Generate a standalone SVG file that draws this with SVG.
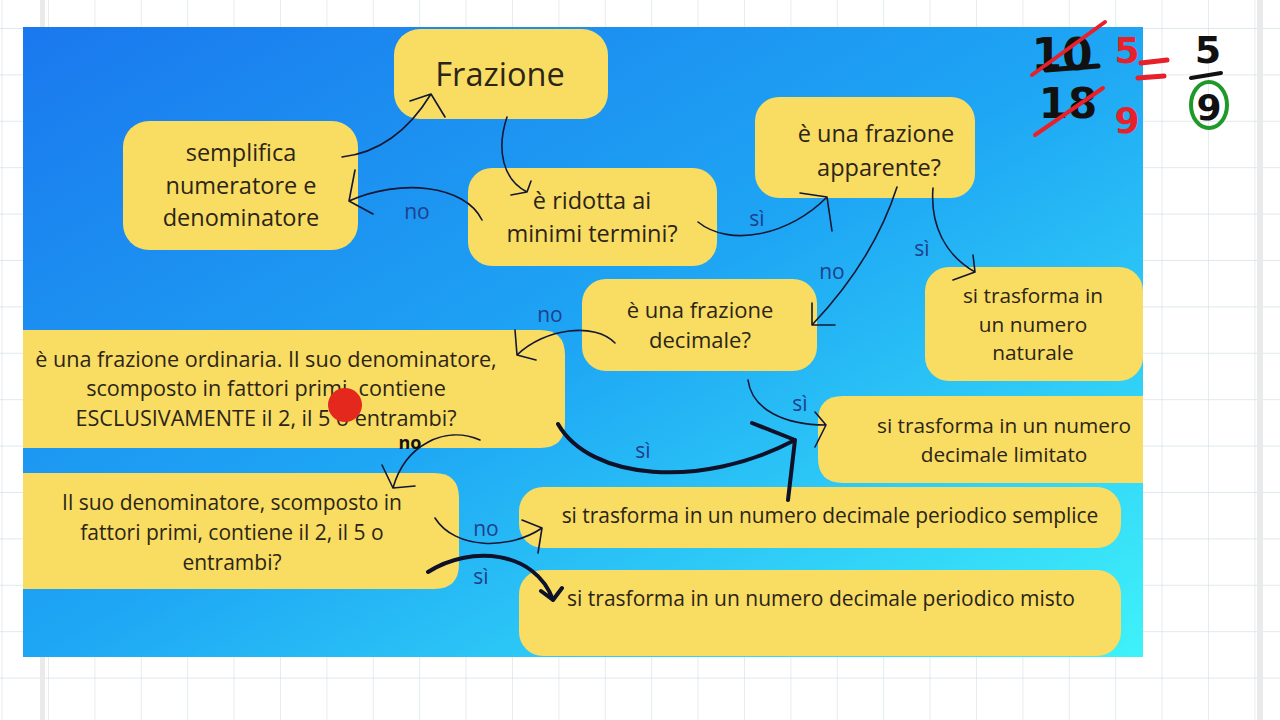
<svg xmlns="http://www.w3.org/2000/svg" width="1280" height="720" viewBox="0 0 1280 720">
<defs>
<pattern id="grid" patternUnits="userSpaceOnUse" x="48" y="28" width="46.4" height="46.4">
<path d="M0,0 V46.4 M0,0 H46.4" fill="none" stroke="#d6e2e8" stroke-width="1.3"/>
</pattern>
<linearGradient id="bg" x1="0" y1="0" x2="1" y2="1">
<stop offset="0" stop-color="#1a78ee"/>
<stop offset="0.5" stop-color="#1ea6f4"/>
<stop offset="1" stop-color="#3ff2f9"/>
</linearGradient>
<style>
.box{fill:#f9dc62}
.t{font-family:"Open Sans","Liberation Sans",sans-serif;fill:#2b2518;text-anchor:middle}
.lab{font-family:"Open Sans","Liberation Sans",sans-serif;fill:#1f3f8c;font-size:21px;text-anchor:middle}
.c{fill:none;stroke:#141733;stroke-width:1.6;stroke-linecap:round;stroke-linejoin:round}
.ck{fill:none;stroke:#0f1128;stroke-width:4;stroke-linecap:round;stroke-linejoin:round}
.hw{font-family:"DejaVu Sans","Liberation Sans",sans-serif;font-weight:bold;text-anchor:middle}
</style>
</defs>
<rect width="1280" height="720" fill="#ffffff"/>
<rect width="1280" height="720" fill="url(#grid)"/>
<rect x="40" y="0" width="5" height="720" fill="#eaeaea"/>
<rect x="1257" y="0" width="6" height="720" fill="#eaeaea"/>
<rect x="23" y="27" width="1120" height="630" fill="url(#bg)"/>

<g id="n-frazione"><rect class="box" x="394" y="29" width="214" height="90" rx="26"/><text class="t" x="500" y="86" font-size="32.5">Frazione</text></g>
<g id="n-semplifica"><rect class="box" x="123" y="121" width="235" height="129" rx="26"/><text class="t" font-size="23.5"><tspan x="241" y="161">semplifica</tspan><tspan x="241" y="194">numeratore e</tspan><tspan x="241" y="226">denominatore</tspan></text></g>
<g id="n-ridotta"><rect class="box" x="468" y="168" width="249" height="98" rx="24"/><text class="t" font-size="23.5"><tspan x="592" y="209">è ridotta ai</tspan><tspan x="592" y="242">minimi termini?</tspan></text></g>
<g id="n-apparente"><rect class="box" x="755" y="97" width="220" height="101" rx="24"/><text class="t" font-size="23.5"><tspan x="876" y="142">è una frazione</tspan><tspan x="879" y="176">apparente?</tspan></text></g>
<g id="n-naturale"><rect class="box" x="925" y="267" width="218" height="114" rx="24"/><text class="t" font-size="20.8"><tspan x="1033" y="303">si trasforma in</tspan><tspan x="1033" y="332">un numero</tspan><tspan x="1033" y="360">naturale</tspan></text></g>
<g id="n-decimale"><rect class="box" x="582" y="279" width="235" height="92" rx="24"/><text class="t" font-size="22"><tspan x="700" y="318">è una frazione</tspan><tspan x="700" y="348">decimale?</tspan></text></g>
<g id="n-ordinaria"><path class="box" d="M23,330 H540 Q565,330 565,355 V423 Q565,448 540,448 H23 Z"/><text class="t" font-size="21.6"><tspan x="266" y="367">è una frazione ordinaria. Il suo denominatore,</tspan><tspan x="266" y="396">scomposto in fattori primi, contiene</tspan><tspan x="266" y="426">ESCLUSIVAMENTE il 2, il 5 o entrambi?</tspan></text></g>
<g id="n-limitato"><path class="box" d="M843,396 H1143 V483 H843 Q818,483 818,458 V421 Q818,396 843,396 Z"/><text class="t" font-size="20.8"><tspan x="1004" y="433">si trasforma in un numero</tspan><tspan x="1004" y="462">decimale limitato</tspan></text></g>
<g id="n-suo"><path class="box" d="M23,473 H434 Q459,473 459,498 V564 Q459,589 434,589 H23 Z"/><text class="t" font-size="21"><tspan x="232" y="510">Il suo denominatore, scomposto in</tspan><tspan x="232" y="540">fattori primi, contiene il 2, il 5 o</tspan><tspan x="232" y="570">entrambi?</tspan></text></g>
<g id="n-semplice"><rect class="box" x="519" y="487" width="602" height="61" rx="24"/><text class="t" x="830" y="523" font-size="20.9">si trasforma in un numero decimale periodico semplice</text></g>
<g id="n-misto"><rect class="box" x="519" y="570" width="602" height="86" rx="24"/><text class="t" x="821" y="606" font-size="21">si trasforma in un numero decimale periodico misto</text></g>

<g id="connectors">
<path class="c" d="M342,157 C385,152 412,125 431,94 M410,101 L431,94 L445,117"/>
<path class="c" d="M507,117 C496,150 503,180 527,192 M511,195 L527,192 L531,181"/>
<path class="c" d="M482,220 C465,185 400,178 349,201 M355,170 L349,201 L373,214"/>
<path class="c" d="M698,222 C730,248 790,235 827,197 M800,193 L827,197 L832,231"/>
<path class="c" d="M897,187 C880,240 850,285 812,325 M812,303 L812,325 L835,325"/>
<path class="c" d="M933,188 C930,225 945,255 975,272 M973,255 L975,272 L953,280"/>
<path class="c" d="M615,343 C595,322 545,328 517,355 M515,330 L517,355 L536,360"/>
<path class="c" d="M748,380 C752,410 785,425 826,425 M815,412 L826,425 L815,447"/>
<path class="ck" d="M558,424 C590,480 700,490 795,440 M752,423 L795,440 L788,500"/>
<path class="c" d="M480,440 C445,425 405,445 393,488 M382,465 L393,488 L415,486"/>
<path class="c" d="M435,518 C455,550 510,550 542,528 M522,520 L542,528 L538,553"/>
<path class="ck" d="M428,572 C470,545 535,550 553,600 M541,591 L553,600 L562,588"/>
<text class="lab" x="417" y="219">no</text>
<text class="lab" x="757" y="226">sì</text>
<text class="lab" x="832" y="279">no</text>
<text class="lab" x="922" y="256">sì</text>
<text class="lab" x="550" y="322">no</text>
<text class="lab" x="800" y="411">sì</text>
<text class="lab" x="643" y="458">sì</text>
<text class="lab" x="410" y="449" style="fill:#121212;font-weight:bold;font-size:18px">no</text>
<text class="lab" x="486" y="536">no</text>
<text class="lab" x="481" y="584">sì</text>
</g>

<circle cx="345" cy="405" r="17" fill="#e5281d"/>

<g id="handwriting">
<text class="hw" x="1062" y="70" font-size="44" fill="#111111">10</text>
<path d="M1032,75 L1105,22" stroke="#e8202a" stroke-width="4" stroke-linecap="round" fill="none"/>
<path d="M1046,70 L1098,66" stroke="#111111" stroke-width="5" stroke-linecap="round" fill="none"/>
<text class="hw" x="1068" y="118" font-size="42" fill="#111111">18</text>
<path d="M1035,135 L1103,88" stroke="#e8202a" stroke-width="4" stroke-linecap="round" fill="none"/>
<text class="hw" x="1127" y="63" font-size="36" fill="#e8202a">5</text>
<text class="hw" x="1127" y="133" font-size="36" fill="#e8202a">9</text>
<path d="M1141,63 L1167,60 M1138,78 L1164,76" stroke="#e8202a" stroke-width="5" stroke-linecap="round" fill="none"/>
<text class="hw" x="1208" y="63" font-size="38" fill="#111111">5</text>
<path d="M1191,78 L1221,73" stroke="#111111" stroke-width="4" stroke-linecap="round" fill="none"/>
<text class="hw" x="1209" y="120" font-size="36" fill="#111111">9</text>
<ellipse cx="1209" cy="105" rx="18" ry="23" fill="none" stroke="#1f9a2a" stroke-width="4"/>
</g>
</svg>
